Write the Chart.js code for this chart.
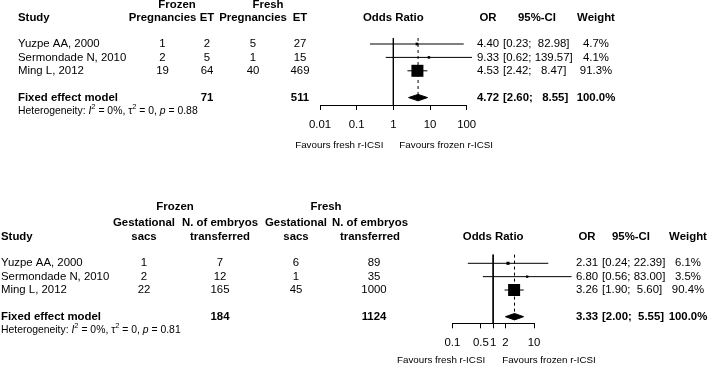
<!DOCTYPE html>
<html lang="en">
<head>
<meta charset="UTF-8">
<title>Forest plots - frozen vs fresh r-ICSI</title>
<script src="https://cdn.jsdelivr.net/npm/chart.js"></script>
<style>
  * { margin: 0; padding: 0; box-sizing: border-box; }
  body { background: #fff; width: 709px; height: 367px; position: relative; overflow: hidden; }
  .panel { position: absolute; left: 0; width: 709px; }
  #top { top: 0; height: 170px; }
  #bottom { top: 170px; height: 197px; }
</style>
</head>
<body>
<div class="panel" id="top"><canvas id="chartTop" width="709" height="170"></canvas></div>
<div class="panel" id="bottom"><canvas id="chartBottom" width="709" height="197"></canvas></div>

<script>
// ---- shared ----
const studies = ['Yuzpe AA, 2000', 'Sermondade N, 2010', 'Ming L, 2012'];

// ---- top: pregnancies per ET ----
const pregFrozen = [1, 2, 19];
const etFrozen = [2, 5, 64];
const pregFresh = [5, 1, 40];
const etFresh = [27, 15, 469];
const orPreg = [4.40, 9.33, 4.53];
const lowPreg = [0.23, 0.62, 2.42];
const highPreg = [82.98, 139.57, 8.47];
const weightPreg = [4.7, 4.1, 91.3];
const pooledPreg = [4.72, 2.60, 8.55];   // OR, lower, upper
const pPreg = '0.88';
const ticksPreg = [0.01, 0.1, 1, 10, 100];
const tickLabelsPreg = ['0.01', '0.1', '1', '10', '100'];

// ---- bottom: gestational sacs per embryo transferred ----
const sacsFrozen = [1, 2, 22];
const embFrozen = [7, 12, 165];
const sacsFresh = [6, 1, 45];
const embFresh = [89, 35, 1000];
const orImpl = [2.31, 6.80, 3.26];
const lowImpl = [0.24, 0.56, 1.90];
const highImpl = [22.39, 83.00, 5.60];
const weightImpl = [6.1, 3.5, 90.4];
const pooledImpl = [3.33, 2.00, 5.55];
const pImpl = '0.81';
const ticksImpl = [0.1, 0.5, 1, 2, 10];
const tickLabelsImpl = ['0.1', '0.5', '1', '2', '10'];

const FONT = "'Liberation Sans', Arial, Helvetica, sans-serif";
const FS = 11.4;        // table font size
const AXIS_H = 30;
const BOX_MAX = 12;     // side of the biggest square, px
const DIAMOND_H = 0.24; // half height of the diamond, in rows

const sum = a => a.reduce((s, v) => s + v, 0);

function ciText(lo, hi, width) {
  return '[' + lo.toFixed(2) + '; ' + hi.toFixed(2).padStart(width, ' ') + ']';
}

function txt(ctx, s, x, y, align, bold, size) {
  ctx.font = (bold ? 'bold ' : '') + (size || FS) + 'px ' + FONT;
  ctx.textAlign = align || 'left';
  ctx.fillText(s, x, y);
}

// heterogeneity line with italic / superscript bits
function hetero(ctx, x, y, p) {
  const parts = [
    ['Heterogeneity: ', ''], ['I', 'i'], ['2', 's'], [' = 0%, \u03c4', ''], ['2', 's'],
    [' = 0, ', ''], ['p', 'i'], [' = ' + p, '']
  ];
  ctx.textAlign = 'left';
  parts.forEach(([s, k]) => {
    const size = k === 's' ? 7.5 : 10.4;
    ctx.font = (k === 'i' ? 'italic ' : '') + size + 'px ' + FONT;
    ctx.fillText(s, x, k === 's' ? y - 4 : y);
    x += ctx.measureText(s).width;
  });
}

function forest(id, p) {
  const canvas = document.getElementById(id);
  const H = canvas.height;
  const axisRow = (p.axisY - p.rowY0) / p.rowH;
  const fixedRow = studies.length + 1;
  const maxW = Math.max(...p.weight);

  const datasets = [];
  // confidence intervals
  studies.forEach((s, i) => {
    datasets.push({
      data: [{ x: p.low[i], y: i }, { x: p.high[i], y: i }],
      borderColor: '#000', borderWidth: 1, pointRadius: 0
    });
  });
  // reference line at OR = 1
  datasets.push({
    data: [{ x: 1, y: p.refTop }, { x: 1, y: axisRow }],
    borderColor: '#000', borderWidth: 1, pointRadius: 0
  });
  // pooled estimate (dashed)
  datasets.push({
    data: [{ x: p.pooled[0], y: p.refTop }, { x: p.pooled[0], y: fixedRow - DIAMOND_H }],
    borderColor: '#000', borderWidth: 1, borderDash: [3, 3], pointRadius: 0
  });
  // study squares sized by weight
  datasets.push({
    data: p.or.map((v, i) => ({ x: v, y: i })),
    showLine: false, pointStyle: 'rect',
    pointRadius: p.weight.map(w => BOX_MAX / Math.SQRT2 * Math.sqrt(w / maxW)),
    pointBackgroundColor: '#000', pointBorderWidth: 0
  });
  // fixed-effect diamond
  const [po, pl, ph] = p.pooled;
  datasets.push({
    data: [
      { x: pl, y: fixedRow }, { x: po, y: fixedRow - DIAMOND_H },
      { x: ph, y: fixedRow }, { x: po, y: fixedRow + DIAMOND_H }, { x: pl, y: fixedRow }
    ],
    borderColor: '#000', backgroundColor: '#000', borderWidth: 1, pointRadius: 0, fill: 'shape'
  });

  const tableText = {
    id: 'tableText',
    afterDraw(chart) {
      const ctx = chart.ctx;
      const y = chart.scales.y;
      const x = chart.scales.x;
      ctx.save();
      ctx.fillStyle = '#000';
      ctx.textBaseline = 'middle';

      p.groups.forEach(g => txt(ctx, g[0], g[1], y.getPixelForValue(p.groupRow), 'center', true));

      p.cols.forEach(c => {
        const n = c.head.length;
        c.head.forEach((h, k) => txt(ctx, h, c.hx !== undefined ? c.hx : c.x, y.getPixelForValue(p.headRow - (n - 1 - k)), c.halign || c.align, true));
        c.vals.forEach((v, i) => txt(ctx, String(v), c.x, y.getPixelForValue(i), c.align, false));
        if (c.total !== '') txt(ctx, String(c.total), c.x, y.getPixelForValue(fixedRow), c.align, true);
      });

      const mid = (chart.chartArea.left + chart.chartArea.right) / 2;
      txt(ctx, 'Odds Ratio', mid, y.getPixelForValue(p.headRow), 'center', true);

      hetero(ctx, p.cols[0].x, y.getPixelForValue(fixedRow + 1), p.pval);

      const x1 = x.getPixelForValue(1);
      const fy = p.axisY + p.favY;
      txt(ctx, 'Favours fresh r-ICSI', x1 - p.favGap[0], fy, 'right', false, 9.8);
      txt(ctx, 'Favours frozen r-ICSI', x1 + p.favGap[1], fy, 'left', false, 9.8);
      ctx.restore();
    }
  };

  return new Chart(canvas, {
    type: 'line',
    data: { datasets },
    options: {
      responsive: false,
      animation: false,
      events: [],
      clip: false,
      datasets: { line: { clip: false } },
      layout: {
        padding: {
          left: p.left,
          right: canvas.width - p.right,
          top: p.rowY0 - p.rowH,
          bottom: H - p.axisY - AXIS_H
        }
      },
      plugins: { legend: { display: false }, tooltip: { enabled: false } },
      scales: {
        x: {
          type: 'logarithmic',
          min: p.ticks[0],
          max: p.ticks[p.ticks.length - 1],
          afterBuildTicks: axis => { axis.ticks = p.ticks.map(v => ({ value: v })); },
          afterFit: axis => { axis.height = AXIS_H; },
          ticks: {
            callback: v => p.tickLabels[p.ticks.indexOf(v)],
            autoSkip: false, maxRotation: 0, minRotation: 0,
            color: '#000', padding: 8,
            font: { family: FONT, size: FS }
          },
          grid: { drawOnChartArea: false, drawTicks: true, tickLength: 5, color: '#000', lineWidth: 1 },
          border: { display: true, color: '#000', width: 1 }
        },
        y: {
          type: 'linear', display: false, reverse: true,
          min: -1, max: axisRow
        }
      }
    },
    plugins: [tableText]
  });
}

function colsFor(or, low, high, weight, pooled, orX, ciX, ciHX, wX) {
  const wid = Math.max(...high.concat(pooled[2]).map(v => v.toFixed(2).length));
  return [
    { x: orX, align: 'center', head: ['OR'], vals: or.map(v => v.toFixed(2)), total: pooled[0].toFixed(2) },
    { x: ciX, hx: ciHX, align: 'left', halign: 'center', head: ['95%-CI'],
      vals: low.map((v, i) => ciText(v, high[i], wid)), total: ciText(pooled[1], pooled[2], wid) },
    { x: wX, align: 'center', head: ['Weight'], vals: weight.map(v => v.toFixed(1) + '%'), total: '100.0%' }
  ];
}

forest('chartTop', {
  left: 320, right: 466.7, rowY0: 44, rowH: 13.4, axisY: 105, refTop: -0.45,
  headRow: -1.95, groupRow: -2.9, favY: 40, favGap: [10, 6],
  ticks: ticksPreg, tickLabels: tickLabelsPreg,
  or: orPreg, low: lowPreg, high: highPreg, weight: weightPreg, pooled: pooledPreg, pval: pPreg,
  groups: [['Frozen', 177], ['Fresh', 268]],
  cols: [
    { x: 18, align: 'left', head: ['Study'], vals: studies, total: 'Fixed effect model' },
    { x: 162.5, align: 'center', head: ['Pregnancies'], vals: pregFrozen, total: '' },
    { x: 207, align: 'center', head: ['ET'], vals: etFrozen, total: sum(etFrozen) },
    { x: 253, align: 'center', head: ['Pregnancies'], vals: pregFresh, total: '' },
    { x: 300, align: 'center', head: ['ET'], vals: etFresh, total: sum(etFresh) }
  ].concat(colsFor(orPreg, lowPreg, highPreg, weightPreg, pooledPreg, 488, 503, 537, 596))
});

forest('chartBottom', {
  left: 452.3, right: 534, rowY0: 93.3, rowH: 13.35, axisY: 153.3, refTop: -0.65,
  headRow: -2, groupRow: -4.24, favY: 37.4, favGap: [8, 9],
  ticks: ticksImpl, tickLabels: tickLabelsImpl,
  or: orImpl, low: lowImpl, high: highImpl, weight: weightImpl, pooled: pooledImpl, pval: pImpl,
  groups: [['Frozen', 175], ['Fresh', 326]],
  cols: [
    { x: 1, align: 'left', head: ['Study'], vals: studies, total: 'Fixed effect model' },
    { x: 144, align: 'center', head: ['Gestational', 'sacs'], vals: sacsFrozen, total: '' },
    { x: 220, align: 'center', head: ['N. of embryos', 'transferred'], vals: embFrozen, total: sum(embFrozen) },
    { x: 296, align: 'center', head: ['Gestational', 'sacs'], vals: sacsFresh, total: '' },
    { x: 374, hx: 370, align: 'center', head: ['N. of embryos', 'transferred'], vals: embFresh, total: sum(embFresh) }
  ].concat(colsFor(orImpl, lowImpl, highImpl, weightImpl, pooledImpl, 587, 602, 631, 688))
});
</script>
</body>
</html>
